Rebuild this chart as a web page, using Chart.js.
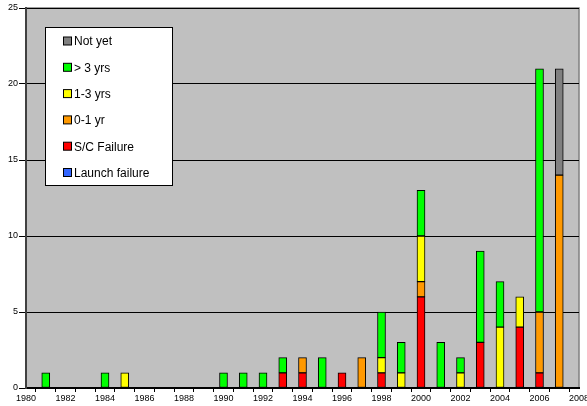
<!DOCTYPE html>
<html>
<head>
<meta charset="utf-8">
<script src="https://cdn.jsdelivr.net/npm/chart.js@4/dist/chart.umd.min.js"></script>
<style>
  html, body { margin: 0; padding: 0; background: #fff; }
  #wrap { width: 587px; height: 406px; }
</style>
</head>
<body>
<div id="wrap"><canvas id="chart" width="587" height="406"></canvas></div>
<script>
// Years on the x axis (1980..2008)
const years = [];
for (let y = 1980; y <= 2008; y++) years.push(String(y));

// Series values, one entry per year, bottom of the stack first
const launchFailure = [null,null,null,null,null,null,null,null,null,null,null,null,null,null,null,null,null,null,null,null,null,null,null,null,null,null,null,null,null];
const scFailure     = [null,null,null,null,null,null,null,null,null,null,null,null,null,1,1,null,1,null,1,null,6,null,null,3,null,4,1,null,null];
const zeroToOne     = [null,null,null,null,null,null,null,null,null,null,null,null,null,null,1,null,null,2,null,null,1,null,null,null,null,null,4,14,null];
const oneToThree    = [null,null,null,null,null,1,null,null,null,null,null,null,null,null,null,null,null,null,1,1,3,null,1,null,4,2,null,null,null];
const overThree     = [null,1,null,null,1,null,null,null,null,null,1,1,1,1,null,2,null,null,3,2,3,3,1,6,3,null,16,null,null];
const notYet        = [null,null,null,null,null,null,null,null,null,null,null,null,null,null,null,null,null,null,null,null,null,null,null,null,null,null,null,7,null];

const yTicks = [0, 5, 10, 15, 20, 25];

function series(label, data, color) {
    return {
        label: label,
        data: data,
        backgroundColor: color,
        borderColor: '#000000',
        borderWidth: 1,
        borderSkipped: false,
        barThickness: 8
    };
}

const datasets = [
    series('Launch failure', launchFailure, '#3366ff'),
    series('S/C Failure', scFailure, '#ff0000'),
    series('0-1 yr', zeroToOne, '#ff9900'),
    series('1-3 yrs', oneToThree, '#ffff00'),
    series('> 3 yrs', overThree, '#00ff00'),
    series('Not yet', notYet, '#808080')
];

// Gray plot background with a light frame on top/right
const plotBackground = {
    id: 'plotBackground',
    beforeDraw(chart) {
        const { ctx, chartArea: a } = chart;
        ctx.save();
        ctx.fillStyle = '#c0c0c0';
        ctx.fillRect(a.left, a.top, a.right - a.left, a.bottom - a.top);
        ctx.strokeStyle = '#808080';
        ctx.lineWidth = 1.5;
        ctx.beginPath();
        ctx.moveTo(a.left, a.top);
        ctx.lineTo(a.right, a.top);
        ctx.lineTo(a.right, a.bottom);
        ctx.stroke();
        ctx.restore();
    }
};

// Boxed legend inside the plot, top item = top of stack
const boxLegend = {
    id: 'boxLegend',
    afterDraw(chart) {
        const ctx = chart.ctx;
        const items = chart.data.datasets.slice().reverse();
        const x = 45, y = 27, w = 127, h = 158;
        ctx.save();
        ctx.fillStyle = '#ffffff';
        ctx.fillRect(x, y, w, h);
        ctx.strokeStyle = '#000000';
        ctx.lineWidth = 1;
        ctx.strokeRect(x + 0.5, y + 0.5, w, h);
        ctx.font = '12px "Liberation Sans", Arial, sans-serif';
        ctx.textBaseline = 'middle';
        items.forEach((ds, i) => {
            const cy = 41 + i * 26.3;
            ctx.fillStyle = ds.backgroundColor;
            ctx.fillRect(63.5, cy - 4, 8, 8);
            ctx.strokeStyle = '#000000';
            ctx.strokeRect(63.5, cy - 4, 8, 8);
            ctx.fillStyle = '#000000';
            ctx.fillText(ds.label, 74, cy + 1);
        });
        ctx.restore();
    }
};

new Chart(document.getElementById('chart'), {
    type: 'bar',
    data: { labels: years, datasets: datasets },
    plugins: [plotBackground, boxLegend],
    options: {
        responsive: false,
        animation: false,
        layout: { padding: { top: 8, right: 8, left: 0, bottom: 0 } },
        plugins: {
            legend: { display: false },
            tooltip: { enabled: false }
        },
        scales: {
            x: {
                stacked: true,
                offset: false,
                grid: {
                    drawOnChartArea: false,
                    drawTicks: true,
                    tickLength: 4,
                    color: '#000000'
                },
                border: { color: '#000000', width: 2 },
                ticks: {
                    autoSkip: false,
                    maxRotation: 0,
                    padding: 1,
                    color: '#000000',
                    font: { size: 9, family: '"Liberation Sans", Arial, sans-serif' },
                    callback: function(val, i) {
                        const yr = years[i];
                        return Number(yr) % 2 === 0 ? yr : '';
                    }
                },
                afterFit(scale) {
                    scale.height = 18;
                    scale.paddingLeft = 0;
                    scale.paddingRight = 0;
                }
            },
            y: {
                stacked: true,
                min: 0,
                max: 25,
                afterBuildTicks(scale) {
                    scale.ticks = yTicks.map(v => ({ value: v }));
                },
                grid: {
                    color: '#000000',
                    lineWidth: 1,
                    drawTicks: true,
                    tickLength: 7
                },
                border: { color: '#404040', width: 2 },
                ticks: {
                    padding: 1,
                    color: '#000000',
                    font: { size: 9, family: '"Liberation Sans", Arial, sans-serif' }
                },
                afterFit(scale) {
                    scale.width = 26;
                }
            }
        }
    }
});
</script>
</body>
</html>
